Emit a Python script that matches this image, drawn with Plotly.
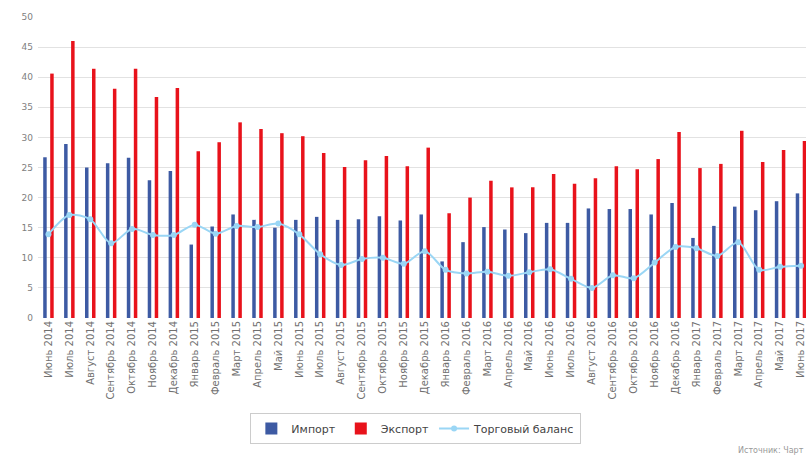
import plotly.graph_objects as go

months = [
    "Июнь 2014", "Июль 2014", "Август 2014", "Сентябрь 2014", "Октябрь 2014",
    "Ноябрь 2014", "Декабрь 2014", "Январь 2015", "Февраль 2015", "Март 2015",
    "Апрель 2015", "Май 2015", "Июнь 2015", "Июль 2015", "Август 2015",
    "Сентябрь 2015", "Октябрь 2015", "Ноябрь 2015", "Декабрь 2015", "Январь 2016",
    "Февраль 2016", "Март 2016", "Апрель 2016", "Май 2016", "Июнь 2016",
    "Июль 2016", "Август 2016", "Сентябрь 2016", "Октябрь 2016", "Ноябрь 2016",
    "Декабрь 2016", "Январь 2017", "Февраль 2017", "Март 2017", "Апрель 2017",
    "Май 2017", "Июнь 2017",
]

imports = [
    26.7, 28.9, 25.0, 25.7, 26.6, 22.9, 24.4, 12.2, 15.2, 17.2,
    16.3, 15.0, 16.3, 16.8, 16.3, 16.4, 16.9, 16.2, 17.2, 9.4,
    12.6, 15.1, 14.7, 14.1, 15.8, 15.8, 18.2, 18.1, 18.1, 17.2,
    19.1, 13.3, 15.3, 18.5, 17.9, 19.4, 20.7,
]

exports = [
    40.6, 46.0, 41.4, 38.1, 41.4, 36.7, 38.2, 27.7, 29.2, 32.5,
    31.4, 30.7, 30.2, 27.4, 25.1, 26.2, 26.9, 25.2, 28.3, 17.4,
    20.0, 22.8, 21.7, 21.7, 23.9, 22.3, 23.2, 25.2, 24.7, 26.4,
    30.9, 24.9, 25.6, 31.1, 25.9, 27.9, 29.4,
]

balance = [
    13.9, 17.1, 16.4, 12.4, 14.8, 13.8, 13.8, 15.5, 14.0, 15.3,
    15.1, 15.7, 13.9, 10.6, 8.8, 9.8, 10.0, 9.0, 11.1, 8.0,
    7.4, 7.7, 7.0, 7.6, 8.1, 6.5, 5.0, 7.1, 6.6, 9.2,
    11.8, 11.6, 10.3, 12.6, 8.0, 8.5, 8.7,
]

y_ticks = [0, 5, 10, 15, 20, 25, 30, 35, 40, 45, 50]

FONT = "DejaVu Sans, Verdana, sans-serif"

fig = go.Figure()
fig.add_trace(go.Bar(
    x=months, y=imports, name="Импорт",
    marker=dict(color="#3d5aa3", line=dict(width=0)),
))
fig.add_trace(go.Bar(
    x=months, y=exports, name="Экспорт",
    marker=dict(color="#e8121b", line=dict(width=0)),
))
fig.add_trace(go.Scatter(
    x=months, y=balance, name="Торговый баланс",
    mode="lines+markers",
    line=dict(color="#9ad6f5", width=2, shape="spline", smoothing=0.8),
    marker=dict(color="#9ad6f5", size=6, symbol="circle"),
))

fig.update_layout(
    width=806, height=455,
    margin=dict(l=38, r=0, t=17, b=137),
    paper_bgcolor="white", plot_bgcolor="white",
    font=dict(family=FONT, color="#666666", size=10),
    barmode="group", bargap=0.33, bargroupgap=0.5,
    showlegend=True,
    legend=dict(
        orientation="h", x=0.492, xanchor="center", y=-0.316, yanchor="top",
        bordercolor="#cccccc", borderwidth=1, bgcolor="white",
        font=dict(family=FONT, size=11, color="#444444"),
        traceorder="normal", itemwidth=30,
    ),
    xaxis=dict(
        type="category", range=[-0.5, 36.24],
        tickangle=-90, tickfont=dict(size=10, color="#707070"),
        showgrid=False, showline=False, ticks="",
    ),
    yaxis=dict(
        range=[0, 50], tickvals=y_ticks,
        gridcolor="#e2e2e2", gridwidth=1, zeroline=False,
        tickfont=dict(size=9, color="#808080"),
        ticks="", ticklabelstandoff=4,
    ),
    annotations=[dict(
        text="Источник: Чарт", xref="paper", yref="paper",
        x=1.0, y=-0.42, xanchor="right", yanchor="top",
        showarrow=False, font=dict(size=8, color="#999999"),
    )],
)

fig.write_html("out.html")
